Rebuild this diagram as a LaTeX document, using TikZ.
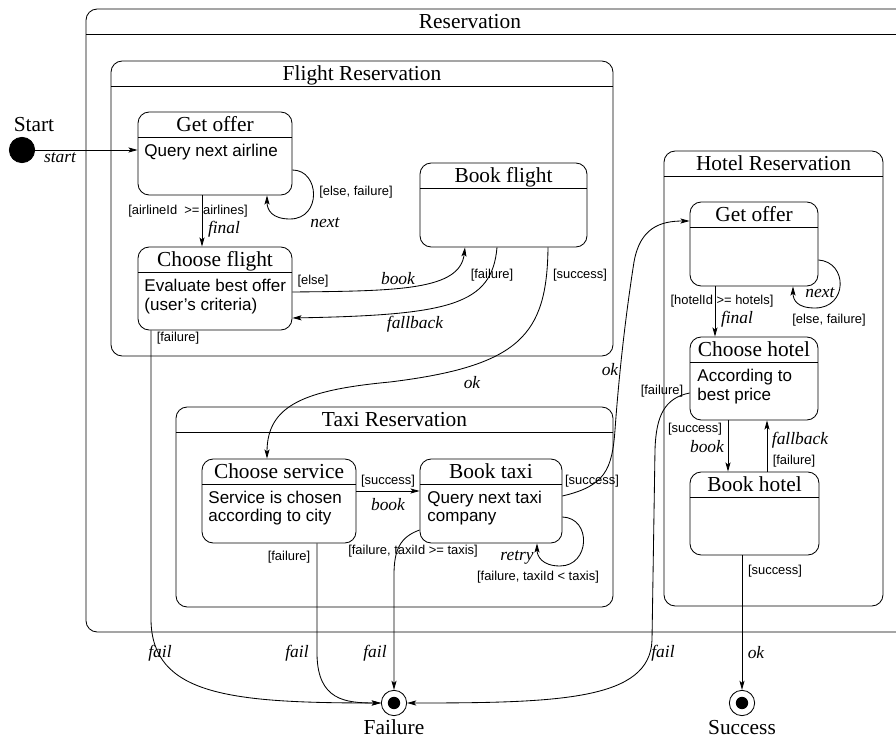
\documentclass[tikz,border=0pt]{standalone}
\usepackage{fontspec}
\setmainfont{Liberation Serif}
\setsansfont{Liberation Sans}
\usetikzlibrary{
    arrows.meta,
    fit
}

\begin{document}
\begin{tikzpicture}[
        x=0.025cm, y=-0.025cm,
        line width=0.6pt,
        state/.style={draw, rounded corners=8pt, inner sep=0pt},
        state title/.style={font=\fontsize{15.2}{18}\selectfont, inner sep=0pt},
        state body/.style={font=\sffamily\fontsize{12.1}{13}\selectfont, align=left, anchor=west, inner sep=0pt},
        guard/.style={font=\sffamily\fontsize{9.2}{11}\selectfont, inner sep=0pt},
        event/.style={font=\itshape\fontsize{12.4}{15}\selectfont, inner sep=0pt},
        trans/.style={-{Stealth[length=6.5pt, width=3.6pt, inset=1.5pt]}},
        pseudo/.style={circle, draw, minimum size=18pt, inner sep=0pt}
    ]
    \useasboundingbox (0,0) rectangle (896,740);
    \clip (0,0) rectangle (896,740);

    % outer composite state runs past the right edge
    \node[state, fit={(86,9) (912,632)}] (res) {};
    \draw (86,34.5) -- (912,34.5);
    \node[state title, anchor=base] (tres) at (470,28.5) {Reservation};

    \foreach \n/\xa/\ya/\xb/\yb/\t in {
        flr/111/61/613/356/Flight Reservation,
        txr/176/407/613/607/Taxi Reservation,
        htr/664/151/883/606/Hotel Reservation,
        gof/138/112/292/195/Get offer,
        cfl/138/247/292/330/Choose flight,
        bfl/420/163/587/247/Book flight,
        csv/202/459/356/543/Choose service,
        btx/420/459/562/543/Book taxi,
        hgo/690/202/818/286/Get offer,
        cho/690/337/818/420/Choose hotel,
        bho/690/472/819/555/Book hotel} {
        \node[state, fit={(\xa,\ya) (\xb,\yb)}] (\n) {};
        \draw (\xa,\ya+25.5) -- (\xb,\ya+25.5);
        \node[state title, anchor=base] (t\n) at ({(\xa+\xb)/2},\ya+19.5) {\t};
    }

    \node[state body] (bgof) at (144,152.3) {Query next airline};
    \node[state body] (bcfl) at (144,296.5) {Evaluate best offer\\(user's criteria)};
    \node[state body] (bcsv) at (208,508) {Service is chosen\\according to city};
    \node[state body] (bbtx) at (427,508) {Query next taxi\\company};
    \node[state body] (bcho) at (697,386.5) {According to\\best price};

    % pseudo states
    \node[pseudo, fill] (start) at (22,150) {};
    \node[pseudo] (fail) at (394,703) {};
    \node[pseudo] (succ) at (742,703) {};
    \fill (fail.center) circle[radius=4.4pt];
    \fill (succ.center) circle[radius=4.4pt];
    \node[state title] (lstart) at (34,124.5) {Start};
    \node[state title] (lfail) at (394,727) {Failure};
    \node[state title] (lsucc) at (742,728) {Success};

    % flight
    \draw[trans] (start) -- (gof.west |- start);
    \draw[trans] (gof.east |- 0,170) .. controls (320,170) and (322,219) .. (290,219)
        .. controls (272,219) and (267,210) .. (267,0 |- gof.south);
    \draw[trans] (202,0 |- gof.south) -- (202,0 |- cfl.north);
    \draw[trans] (cfl.east |- 0,292) .. controls (400,291) and (460,290) .. (465,0 |- bfl.south);
    \draw[trans] (497,0 |- bfl.south) .. controls (492,305) and (450,315) .. (cfl.east |- 0,318);
    \draw[trans] (548,0 |- bfl.south) .. controls (547,335) and (520,366) .. (390,382)
        .. controls (305,390) and (267,405) .. (267,0 |- csv.north);
    \draw[trans] (151,0 |- cfl.south) -- (151,620) .. controls (152,695) and (230,703) .. (fail.west);

    % taxi
    \draw[trans] (csv.east |- 0,491) -- (btx.west |- 0,491);
    \draw[trans] (btx.east |- 0,496) .. controls (605,486) and (612,470) .. (615,430)
        .. controls (620,360) and (628,300) .. (634,262)
        .. controls (640,228) and (660,221) .. (hgo.west |- 0,221);
    \draw[trans] (btx.east |- 0,517) .. controls (592,518) and (590,566) .. (560,566)
        .. controls (542,566) and (537,556) .. (537,0 |- btx.south);
    \draw[trans] (btx.west |- 0,530) .. controls (400,537) and (394,550) .. (394,575) -- (fail.north);
    \draw[trans] (317,0 |- csv.south) -- (317,655) .. controls (318,700) and (345,703) .. (fail.west);

    % hotel
    \draw[trans] (hgo.east |- 0,260) .. controls (848,262) and (848,308) .. (815,308)
        .. controls (797,308) and (793,300) .. (793,0 |- hgo.south);
    \draw[trans] (715,0 |- hgo.south) -- (715,0 |- cho.north);
    \draw[trans] (728,0 |- cho.south) -- (728,0 |- bho.north);
    \draw[trans] (767,0 |- bho.north) -- (767,0 |- cho.south);
    \draw[trans] (742,0 |- bho.south) -- (succ.north);
    \draw[trans] (cho.west |- 0,393) .. controls (665,398) and (656,415) .. (655,450)
        -- (652,640) .. controls (650,700) and (560,703) .. (fail.east);

    \foreach \x/\y/\t [count=\i] in {
        356/192/{[else, failure]}, 188/211/{[airlineId\ \ >= airlines]},
        313/281/{[else]}, 492/275/{[failure]}, 580/275/{[success]},
        178/338/{[failure]}, 388/481/{[success]}, 592/481/{[success]},
        413/551/{[failure, taxiId >= taxis]}, 538/577/{[failure, taxiId < taxis]},
        289/557/{[failure]}, 662/391/{[failure]}, 829/320/{[else, failure]},
        722/301/{[hotelId >= hotels]}, 695/429/{[success]}, 794/461/{[failure]},
        775/571/{[success]}}
        \node[guard] (guard\i) at (\x,\y) {\t};

    \foreach \x/\y/\t [count=\i] in {
        60/158/start, 325/223/next, 224/229/final, 398/279/book,
        415/324/fallback, 472/383/ok, 388/505/book, 610/370/ok,
        375/653/fail, 517/557/retry, 297/653/fail, 160/653/fail,
        663/653/fail, 820/293/next, 737/319/final, 707/447/book,
        800/440/fallback, 756/653/ok}
        \node[event] (event\i) at (\x,\y) {\t};
\end{tikzpicture}
\end{document}
